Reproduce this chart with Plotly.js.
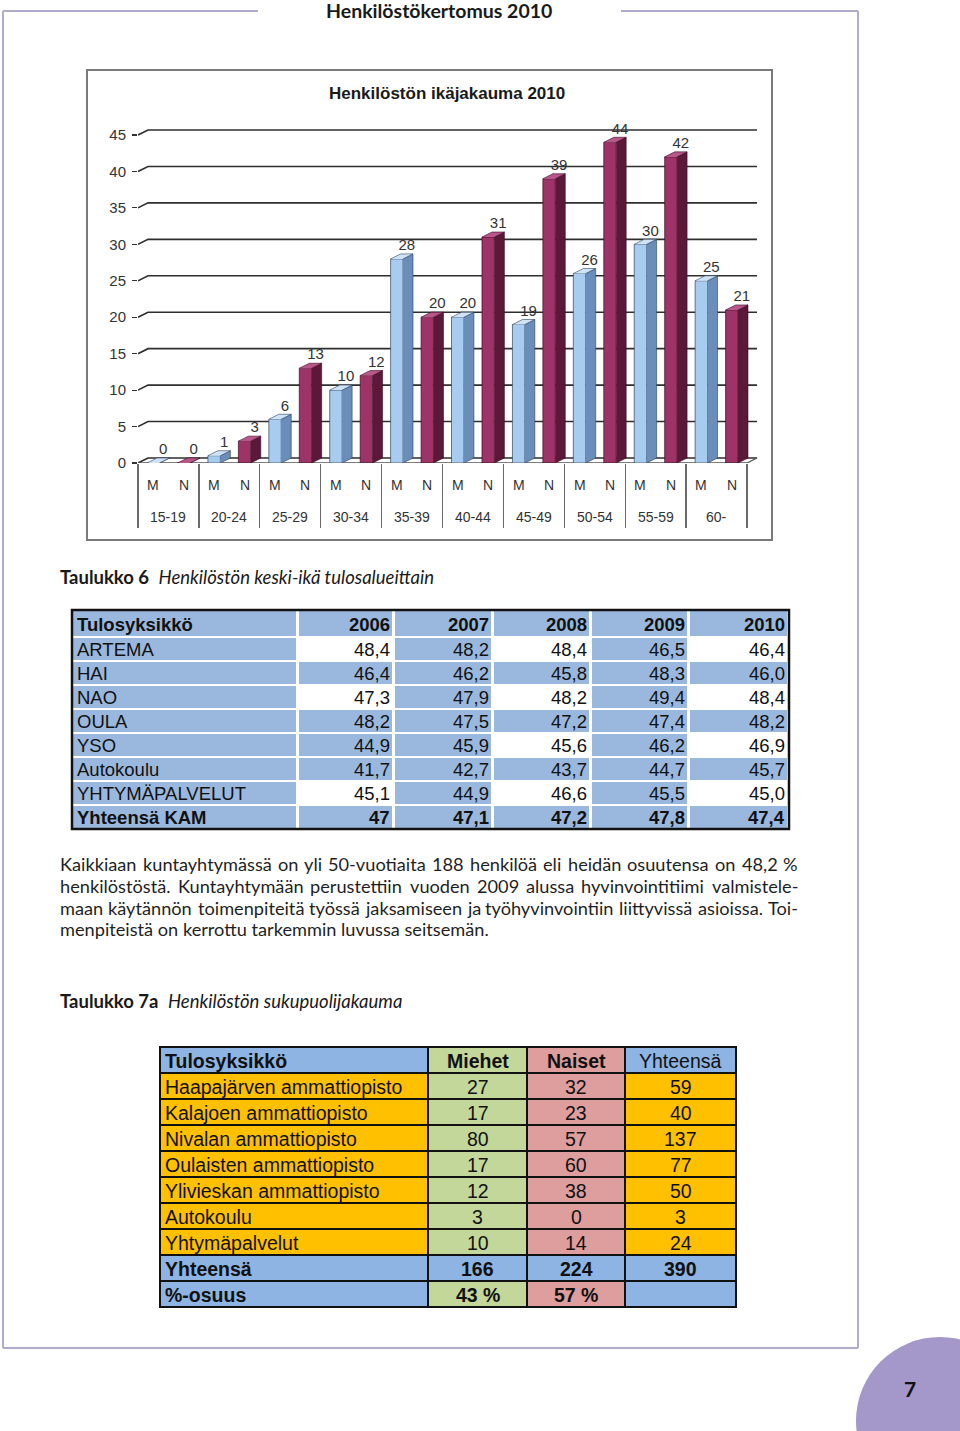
<!DOCTYPE html>
<html><head><meta charset="utf-8">
<script src="https://cdn.plot.ly/plotly-3.0.1.min.js"></script>
<style>html,body{margin:0;padding:0;background:#fff}#page{width:960px;height:1431px}</style>
</head><body><div id="page"></div>
<script>
// ---------------- DATA ----------------
const ageGroups = ['15-19','20-24','25-29','30-34','35-39','40-44','45-49','50-54','55-59','60-'];
const sexLabels = ['M','N'];
const men   = [0, 1, 6, 10, 28, 20, 19, 26, 30, 25];
const women = [0, 3, 13, 12, 20, 31, 39, 44, 42, 21];
const yTicks = [0,5,10,15,20,25,30,35,40,45];

const t6Header = ['Tulosyksikkö','2006','2007','2008','2009','2010'];
const t6Units = ['ARTEMA','HAI','NAO','OULA','YSO','Autokoulu','YHTYMÄPALVELUT','Yhteensä KAM'];
const t6_2006 = ['48,4','46,4','47,3','48,2','44,9','41,7','45,1','47'];
const t6_2007 = ['48,2','46,2','47,9','47,5','45,9','42,7','44,9','47,1'];
const t6_2008 = ['48,4','45,8','48,2','47,2','45,6','43,7','46,6','47,2'];
const t6_2009 = ['46,5','48,3','49,4','47,4','46,2','44,7','45,5','47,8'];
const t6_2010 = ['46,4','46,0','48,4','48,2','46,9','45,7','45,0','47,4'];

const t7Header = ['Tulosyksikkö','Miehet','Naiset','Yhteensä'];
const t7Units = ['Haapajärven ammattiopisto','Kalajoen ammattiopisto','Nivalan ammattiopisto','Oulaisten ammattiopisto','Ylivieskan ammattiopisto','Autokoulu','Yhtymäpalvelut','Yhteensä','%-osuus'];
const t7Men   = ['27','17','80','17','12','3','10','166','43 %'];
const t7Women = ['32','23','57','60','38','0','14','224','57 %'];
const t7Total = ['59','40','137','77','50','3','24','390',''];

const pageHeader = 'Henkilöstökertomus 2010';
const chartTitle = 'Henkilöstön ikäjakauma 2010';
const caption6 = ['Taulukko 6', 'Henkilöstön keski-ikä tulosalueittain'];
const caption7 = ['Taulukko 7a', 'Henkilöstön sukupuolijakauma'];
const paragraph = [
  'Kaikkiaan kuntayhtymässä on yli 50-vuotiaita 188 henkilöä eli heidän osuutensa on 48,2 %',
  'henkilöstöstä. Kuntayhtymään perustettiin vuoden 2009 alussa hyvinvointitiimi valmistele-',
  'maan käytännön toimenpiteitä työssä jaksamiseen ja työhyvinvointiin liittyvissä asioissa. Toi-',
  'menpiteistä on kerrottu tarkemmin luvussa seitsemän.'
];
const pageNumber = '7';

// ---------------- GEOMETRY / STYLE ----------------
const W = 960, H = 1431;
const X = px => px / W, Y = py => 1 - py / H;
const ARIAL = 'Liberation Sans, Arial, sans-serif';
const BODY = 'Lato, Open Sans, sans-serif';

const slot = (747 - 138) / 20;
const pxPerUnit = (463 - 135) / 45;
const xMin = -0.5, xMax = 20.0, yMax = 48;
const dX = 10 / slot, dY = 5 / pxPerUnit;
const hw = 6.2 / slot;
const nCat = ageGroups.length * 2;
const lastEdge = nCat - 0.5;

const mPos = ageGroups.map((_, i) => 2 * i);
const nPos = ageGroups.map((_, i) => 2 * i + 1);
const boundaries = [];
for (let i = 0; i <= ageGroups.length; i++) boundaries.push(2 * i - 0.5);

const traces = [];
const ann = [];

// back-wall gridlines
const gx = [], gy = [];
yTicks.forEach(v => { gx.push(xMin, xMin + dX, lastEdge + dX, null); gy.push(v, v + dY, v + dY, null); });
traces.push({type:'scatter', x:gx, y:gy, xaxis:'x', yaxis:'y', mode:'lines',
  line:{color:'#2f2f2f', width:1.6}, hoverinfo:'skip', showlegend:false});
traces.push({type:'scatter', x:[xMin, lastEdge, lastEdge + dX], y:[0, 0, dY], xaxis:'x', yaxis:'y', mode:'lines',
  line:{color:'#555', width:1.3}, hoverinfo:'skip', showlegend:false});

const series = [
  {pos:mPos, vals:men,   front:'#A8CCF0', side:'#6A8DBA', top:'#CFE3F7', edge:'#2e4360'},
  {pos:nPos, vals:women, front:'#9D3367', side:'#5B1839', top:'#B9578A', edge:'#3a0c23'}
];
series.forEach((s, k) => {
  traces.push({type:'bar', name:sexLabels[k], x:s.pos, y:s.vals, width:2*hw, xaxis:'x2', yaxis:'y',
    marker:{color:s.front, line:{color:s.edge, width:0.7}}, hoverinfo:'skip', showlegend:false});
  const sx = [], sy = [], tx = [], ty = [];
  s.pos.forEach((c, i) => {
    const v = s.vals[i];
    sx.push(c + hw, c + hw + dX, c + hw + dX, c + hw, null); sy.push(0, dY, v + dY, v, null);
    tx.push(c - hw, c - hw + dX, c + hw + dX, c + hw, null); ty.push(v, v + dY, v + dY, v, null);
  });
  traces.push({type:'scatter', x:sx, y:sy, xaxis:'x2', yaxis:'y', mode:'lines', fill:'toself',
    fillcolor:s.side, line:{color:s.edge, width:0.6}, hoverinfo:'skip', showlegend:false});
  traces.push({type:'scatter', x:tx, y:ty, xaxis:'x2', yaxis:'y', mode:'lines', fill:'toself',
    fillcolor:s.top, line:{color:s.edge, width:0.6}, hoverinfo:'skip', showlegend:false});
  traces.push({type:'scatter', x:s.pos.map(c => c + dX), y:s.vals.map(v => v + dY), xaxis:'x2', yaxis:'y',
    mode:'text', text:s.vals.map(String), textposition:'top center', cliponaxis:false,
    textfont:{family:ARIAL, size:15, color:'#333'}, hoverinfo:'skip', showlegend:false});
});

// ---------------- TABLES (heatmap cells + text) ----------------
const edges = ws => { const e = [0]; ws.forEach(w => e.push(e[e.length - 1] + w)); return e; };

// Table 6
const B6 = '#9AB8DE';
const t6Cols = [t6Units, t6_2006, t6_2007, t6_2008, t6_2009, t6_2010];
const t6ColW = [226, 96, 99, 98, 98, 100];
const t6RowH = [27].concat(t6Units.map(() => 24));
const t6Pattern = [ // 1 = blue, 0 = white (per column, body rows)
  t6Units.map(() => 1), [0,1,0,1,1,1,0,1], t6Units.map(() => 1),
  [0,1,0,1,0,1,0,1], t6Units.map(() => 1), [0,1,0,1,0,1,0,1]];
const t6xe = edges(t6ColW), t6ye = edges(t6RowH);
const t6z = t6RowH.map((_, r) => t6Cols.map((_, c) => r === 0 ? 1 : t6Pattern[c][r - 1]));
traces.push({type:'heatmap', x:t6xe, y:t6ye, z:t6z, xaxis:'x3', yaxis:'y3', zmin:0, zmax:1,
  colorscale:[[0,'#ffffff'],[0.5,'#ffffff'],[0.5,B6],[1,B6]], showscale:false, xgap:3, ygap:2, hoverinfo:'skip'});
t6RowH.forEach((_, r) => {
  t6Cols.forEach((col, c) => {
    const raw = r === 0 ? t6Header[c] : col[r - 1];
    const isBold = r === 0 || r === t6RowH.length - 1;
    ann.push({text: isBold ? '<b>' + raw + '</b>' : raw, xref:'x3', yref:'y3',
      x: c === 0 ? t6xe[c] + 3 : t6xe[c + 1] - 2, xanchor: c === 0 ? 'left' : 'right',
      y:(t6ye[r] + t6ye[r + 1]) / 2 + 0.5, yanchor:'middle', showarrow:false,
      font:{family:ARIAL, size:18.5, color:'#111'}});
  });
});

// Table 7a
const BL = '#8DB4E2', GR = '#C4D79B', PK = '#DE9E9D', OR = '#FFC000';
const t7Cols = [t7Units, t7Men, t7Women, t7Total];
const t7ColW = [268, 99, 98, 111];
const t7RowH = [26].concat(t7Units.map(() => 26));
const nb = t7Units.length;
// colour index: 0 blue, 1 green, 2 pink, 3 orange
const t7HeadIdx = [0, 1, 2, 0];
const t7BodyIdx = [3, 1, 2, 3];
const t7SumIdx  = [0, 0, 0, 0];
const t7PctIdx  = [0, 1, 2, 0];
const t7xe = edges(t7ColW), t7ye = edges(t7RowH);
const t7z = t7RowH.map((_, r) => r === 0 ? t7HeadIdx : (r <= nb - 2 ? t7BodyIdx : (r === nb - 1 ? t7SumIdx : t7PctIdx)));
traces.push({type:'heatmap', x:t7xe, y:t7ye, z:t7z, xaxis:'x4', yaxis:'y4', zmin:0, zmax:3,
  colorscale:[[0,BL],[0.25,BL],[0.25,GR],[0.5,GR],[0.5,PK],[0.75,PK],[0.75,OR],[1,OR]],
  showscale:false, xgap:2, ygap:2, hoverinfo:'skip'});
t7RowH.forEach((_, r) => {
  t7Cols.forEach((col, c) => {
    const raw = r === 0 ? t7Header[c] : col[r - 1];
    if (!raw) return;
    const isBold = (r === 0 && c < 3) || r >= nb - 1;
    ann.push({text: isBold ? '<b>' + raw + '</b>' : raw, xref:'x4', yref:'y4',
      x: c === 0 ? t7xe[c] + 3 : (t7xe[c] + t7xe[c + 1]) / 2, xanchor: c === 0 ? 'left' : 'center',
      y:(t7ye[r] + t7ye[r + 1]) / 2 + 0.5, yanchor:'middle', showarrow:false,
      font:{family:ARIAL, size:19.5, color:'#111'}});
  });
});

// ---------------- OTHER TEXT ----------------
ann.push({text:'<b>' + pageHeader + '</b>', x:X(439), y:Y(10), xref:'paper', yref:'paper', showarrow:false,
  xanchor:'center', yanchor:'middle', font:{family:BODY, size:19.5, color:'#1a1a1a'}});
ann.push({text:'<b>' + chartTitle + '</b>', x:X(447), y:Y(93), xref:'paper', yref:'paper', showarrow:false,
  xanchor:'center', yanchor:'middle', font:{family:ARIAL, size:17, color:'#1a1a1a'}});
ageGroups.forEach((g, i) => {
  ann.push({text:sexLabels[0], x:mPos[i], y:Y(485), xref:'x', yref:'paper', showarrow:false, yanchor:'middle',
    font:{family:ARIAL, size:14, color:'#333'}});
  ann.push({text:sexLabels[1], x:nPos[i], y:Y(485), xref:'x', yref:'paper', showarrow:false, yanchor:'middle',
    font:{family:ARIAL, size:14, color:'#333'}});
  ann.push({text:g, x:2 * i + 0.5, y:Y(517), xref:'x', yref:'paper', showarrow:false, yanchor:'middle',
    font:{family:ARIAL, size:14, color:'#333'}});
});
ann.push({text:'<b>' + caption6[0] + '</b>\u00a0\u00a0<i>' + caption6[1] + '</i>', x:X(58), y:Y(577),
  xref:'paper', yref:'paper', showarrow:false, xanchor:'left', yanchor:'middle', font:{family:BODY, size:18.5, color:'#1a1a1a'}});
ann.push({text:'<b>' + caption7[0] + '</b>\u00a0\u00a0<i>' + caption7[1] + '</i>', x:X(58), y:Y(1001),
  xref:'paper', yref:'paper', showarrow:false, xanchor:'left', yanchor:'middle', font:{family:BODY, size:18.5, color:'#1a1a1a'}});
ann.push({text:'<b>' + pageNumber + '</b>', x:X(910), y:Y(1388), xref:'paper', yref:'paper', showarrow:false,
  xanchor:'center', yanchor:'middle', font:{family:BODY, size:21, color:'#111'}});

// justified paragraph
const ctx = document.createElement('canvas').getContext('2d');
const meas = (t, s) => { ctx.font = s + 'px Lato'; return ctx.measureText(t).width; };
const pLeft = 60, pRight = 798, pWidth = pRight - pLeft;
const baseSize = 18.2, minGap = 3.6;
const lineY = [864, 886, 908, 929];
paragraph.forEach((line, li) => {
  if (li === paragraph.length - 1) {
    ann.push({text:line, x:X(pLeft - 2), y:Y(lineY[li]), xref:'paper', yref:'paper', showarrow:false,
      xanchor:'left', yanchor:'middle', font:{family:BODY, size:baseSize, color:'#1f1f1f'}});
    return;
  }
  const words = line.split(' ');
  let size = baseSize;
  let ws = words.map(w => meas(w, size));
  let sum = ws.reduce((a, b) => a + b, 0);
  if (sum + minGap * (words.length - 1) > pWidth) {
    size = size * (pWidth - minGap * (words.length - 1)) / sum;
    ws = words.map(w => meas(w, size));
    sum = ws.reduce((a, b) => a + b, 0);
  }
  const gap = (pWidth - sum) / (words.length - 1);
  let cx = pLeft;
  words.forEach((w, k) => {
    ann.push({text:w, x:X(cx - 2), y:Y(lineY[li]), xref:'paper', yref:'paper', showarrow:false,
      xanchor:'left', yanchor:'middle', font:{family:BODY, size:size, color:'#1f1f1f'}});
    cx += ws[k] + gap;
  });
});

// ---------------- SHAPES ----------------
const FR = '#B1ABCC';
const shapes = [
  {type:'line', xref:'paper', yref:'paper', x0:X(3), y0:Y(11), x1:X(258), y1:Y(11), line:{color:FR, width:2}},
  {type:'line', xref:'paper', yref:'paper', x0:X(621), y0:Y(11), x1:X(858), y1:Y(11), line:{color:FR, width:2}},
  {type:'line', xref:'paper', yref:'paper', x0:X(3), y0:Y(11), x1:X(3), y1:Y(1348), line:{color:FR, width:2}},
  {type:'line', xref:'paper', yref:'paper', x0:X(858), y0:Y(11), x1:X(858), y1:Y(1348), line:{color:FR, width:2}},
  {type:'line', xref:'paper', yref:'paper', x0:X(3), y0:Y(1348), x1:X(858), y1:Y(1348), line:{color:FR, width:2}},
  {type:'rect', xref:'paper', yref:'paper', x0:X(87), y0:Y(70), x1:X(772), y1:Y(540), line:{color:'#7a7a7a', width:2}},
  {type:'rect', xref:'paper', yref:'paper', x0:X(72), y0:Y(610), x1:X(789), y1:Y(829), line:{color:'#111', width:2.5}},
  {type:'rect', xref:'paper', yref:'paper', x0:X(159), y0:Y(1046), x1:X(737), y1:Y(1308),
    fillcolor:'#111', line:{width:0}, layer:'below'},
  {type:'circle', xref:'paper', yref:'paper', x0:X(856), y0:Y(1337), x1:X(1024), y1:Y(1505),
    fillcolor:'#A497C9', line:{width:0}, layer:'below'}
];

const hid = {visible:false, fixedrange:true, showgrid:false, zeroline:false};
const layout = {
  width:W, height:H, margin:{l:0, r:0, t:0, b:0, pad:0},
  paper_bgcolor:'#ffffff', plot_bgcolor:'rgba(0,0,0,0)', showlegend:false, barmode:'overlay',
  font:{family:ARIAL, color:'#333'},
  xaxis:{domain:[X(138), X(138 + (xMax - xMin) * slot)], range:[xMin, xMax], anchor:'y',
    tickmode:'array', tickvals:boundaries, ticks:'outside', ticklen:64, tickwidth:1.4, tickcolor:'#6a6a6a',
    showticklabels:false, showgrid:false, zeroline:false, showline:false, fixedrange:true},
  xaxis2:{overlaying:'x', range:[xMin, xMax], anchor:'y', visible:false, fixedrange:true},
  yaxis:{domain:[Y(463), Y(463 - yMax * pxPerUnit)], range:[0, yMax], anchor:'x',
    tickmode:'array', tickvals:yTicks, ticks:'outside', ticklen:5, tickwidth:1.2, tickcolor:'#333',
    ticklabelstandoff:3,
    tickfont:{family:ARIAL, size:15, color:'#333'}, showgrid:false, zeroline:false, showline:false, fixedrange:true},
  xaxis3:Object.assign({domain:[X(72), X(789)], range:[0, t6xe[t6xe.length - 1]], anchor:'y3'}, hid),
  yaxis3:Object.assign({domain:[Y(829), Y(610)], range:[t6ye[t6ye.length - 1], 0], anchor:'x3'}, hid),
  xaxis4:Object.assign({domain:[X(160), X(736)], range:[0, t7xe[t7xe.length - 1]], anchor:'y4'}, hid),
  yaxis4:Object.assign({domain:[Y(1307), Y(1047)], range:[t7ye[t7ye.length - 1], 0], anchor:'x4'}, hid),
  shapes:shapes, annotations:ann
};

Plotly.newPlot('page', traces, layout, {staticPlot:true, displayModeBar:false});
</script>
</body></html>
